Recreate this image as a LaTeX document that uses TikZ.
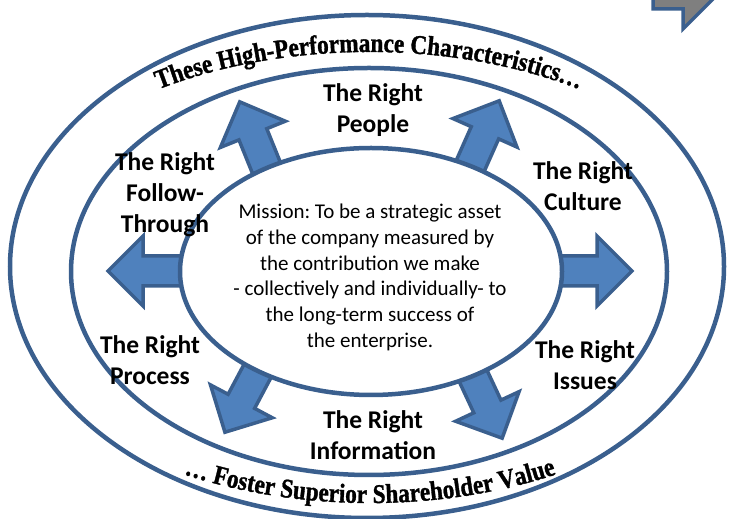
\documentclass[tikz,border=0pt]{standalone}
\usepackage{fontspec}
\setmainfont{Carlito}
\newfontfamily\arcfont[FakeStretch=0.86,FakeBold=1.2]{Liberation Serif}
\usetikzlibrary{decorations.text}
\definecolor{lineblue}{HTML}{3A5F8E}
\definecolor{arrowfill}{HTML}{4F81BD}
\definecolor{grayfill}{HTML}{7F7F7F}
\newcommand\arcstyle{\arcfont\bfseries\fontsize{27}{28}\selectfont}
\frenchspacing
\begin{document}
\begin{tikzpicture}[x=1pt,y=1pt,
  ring/.style={draw=lineblue, line width=4.5pt},
  blockarrow/.style={fill=arrowfill, draw=lineblue, line width=3.5pt, line join=miter},
  lbl/.style={font=\fontsize{25.5}{31}\selectfont\bfseries, align=center, inner sep=0pt},
  mtext/.style={font=\fontsize{21}{25.8}\selectfont, align=center, inner sep=0pt}]
\useasboundingbox (0,0) rectangle (731,519);
\begin{scope}
  \clip (0,0) rectangle (731,519);
  \draw[ring] (367,252.5) ellipse[x radius=357, y radius=251.5];
  \draw[ring] (369,247.5) ellipse[x radius=298, y radius=203.5];
  \draw[fill=grayfill, draw=lineblue, line width=3.5pt] (653,535) -- (653,510) -- (683,510) -- (683,490) -- (728,535) -- cycle;
\end{scope}
\foreach \tx/\ty/\ang in {239/419/112, 500/420/66, 106/248/180, 634/248/0, 224/85/242, 503/79/295}
  \draw[blockarrow, shift={(\tx,\ty)}, rotate=\ang] (-2,0) -- (-37,35) -- (-37,15) -- (-110,15) -- (-110,-15) -- (-37,-15) -- (-37,-35) -- cycle;
\draw[ring, fill=white] (371,247.5) ellipse[x radius=191, y radius=123.5];
\node[mtext] (mission) at (370,241.5) {Mission: To be a strategic asset\\of the company measured by\\the contribution we make\\- collectively and individually- to\\the long-term success of\\the enterprise.};
\node[lbl] (people) at (373,409) {The Right\\People};
\node[lbl] (follow) at (165,324) {The Right\\Follow-\\Through};
\node[lbl] (culture) at (583,333) {The Right\\Culture};
\node[lbl] (process) at (150,159) {The Right\\Process};
\node[lbl] (issues) at (585,154) {The Right\\Issues};
\node[lbl] (information) at (373,84) {The Right\\Information};
\path[decorate, decoration={text along path, text align=center,
  text={|\arcstyle|These High-Performance Characteristics…}}]
  (43.4,358) arc[start angle=150, end angle=30, x radius=376, y radius=218];
\path[decorate, decoration={text along path, text align=center,
  text={|\arcstyle|… Foster Superior Shareholder Value}}]
  (34.9,132.5) arc[start angle=210, end angle=330, x radius=387, y radius=233];
\end{tikzpicture}
\end{document}
